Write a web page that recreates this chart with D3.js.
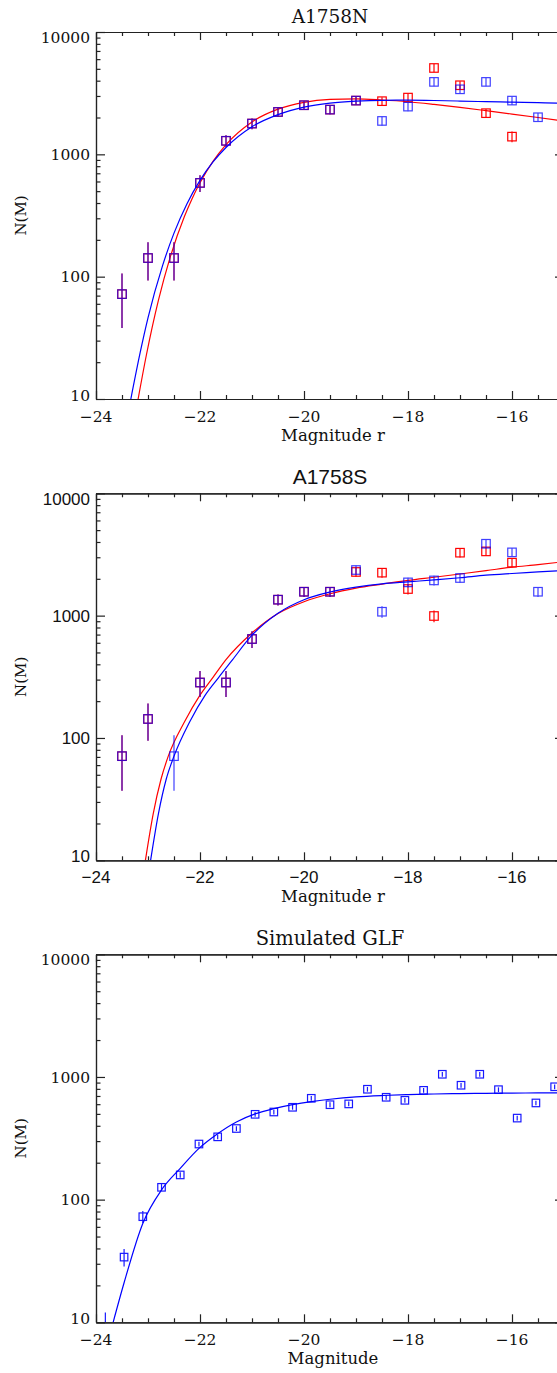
<!DOCTYPE html>
<html>
<head>
<meta charset="UTF-8">
<script src="https://d3js.org/d3.v7.min.js"></script>
<style>
	body{ margin:0; background:#fff; overflow:hidden; }
	svg{ display:block; }
</style>
</head>
<body>
<div id="chart"></div>
<script>
// magnitude bins used by both A1758 panels
var magBins = [-23.5,-23,-22.5,-22,-21.5,-21,-20.5,-20,-19.5,-19,-18.5,-18,-17.5,-17,-16.5,-16,-15.5];

// A1758N counts (red and blue samples) with error half-widths
var nRed     = [72,142,142,584,1290,1785,2220,2520,2320,2750,2720,2910,5080,3670,2170,1395,null];
var nRedErr  = [34,49,49,92,140,180,190,200,190,210,210,230,400,290,180,140,null];
var nBlue    = [72,142,142,584,1290,1785,2220,2520,2320,2750,1875,2455,3910,3400,3910,2750,2010];
var nBlueErr = [34,49,49,92,140,180,190,200,190,210,160,200,310,270,310,220,170];

// A1758S counts
var sRed     = [71,143,null,284,284,644,1350,1568,1568,2275,2245,1650,993,3270,3350,2710,null];
var sRedErr  = [34,48,null,68,68,100,140,150,150,200,200,160,110,280,280,230,null];
var sBlue    = [71,143,71,284,284,644,1350,1568,1568,2360,1076,1870,1940,2030,3870,3290,1568];
var sBlueErr = [34,48,34,68,68,100,140,150,150,210,115,170,175,180,320,280,150];

// simulated GLF
var simMag = [-23.82,-23.46,-23.10,-22.74,-22.38,-22.02,-21.66,-21.30,-20.94,-20.58,-20.22,-19.86,-19.50,-19.14,-18.78,-18.42,-18.06,-17.70,-17.34,-16.98,-16.62,-16.26,-15.90,-15.54,-15.18];
var simN   = [5,34,72.6,126,159,284,325,380,496,518,566,670,594,603,794,683,645,778,1052,856,1052,788,462,614,832];
var simErr = [7,5.5,8,8,8,13,15,17,22,23,25,30,27,27,35,30,29,35,47,38,47,35,21,27,37];

// fitted curves
var fitNRedM  = [-23.19,-23.03,-22.8,-22.58,-22.3,-22.15,-22,-21.75,-21.5,-21,-20.5,-20,-19.5,-19,-18.5,-18,-17.5,-17,-16.5,-16,-15.5,-15];
var fitNRedV  = [10,23,64,141,310,436,585,875,1200,1840,2340,2660,2810,2840,2780,2690,2560,2420,2275,2135,2000,1870];
var fitNBlueM = [-23.33,-23.15,-23,-22.72,-22.5,-22.25,-22,-21.75,-21.5,-21,-20.5,-20,-19.5,-19,-18.5,-18,-17.5,-17,-16.5,-16,-15.5,-15];
var fitNBlueV = [10,24,46,123,227,395,612,866,1137,1680,2110,2430,2620,2720,2765,2770,2755,2725,2695,2670,2645,2615];

var fitSRedM  = [-23.05,-22.9,-22.75,-22.61,-22.3,-22,-21.75,-21.5,-21,-20.5,-20,-19.5,-19,-18.5,-18,-17.5,-17,-16.5,-16,-15.5,-15];
var fitSRedV  = [10,24,46,71,135,224,313,437,721,1040,1300,1510,1680,1810,1940,2060,2190,2330,2490,2610,2760];
var fitSBlueM = [-22.95,-22.8,-22.65,-22.5,-22.2,-21.9,-21.65,-21.4,-21,-20.5,-20,-19.5,-19,-18.5,-18,-17.5,-17,-16.5,-16,-15.5,-15];
var fitSBlueV = [10,24,46,71,135,224,309,422,692,1047,1350,1560,1710,1820,1890,1960,2040,2140,2210,2275,2345];

var fitSimM = [-23.67,-23.46,-23.1,-22.74,-22.38,-22.02,-21.66,-21.3,-20.94,-20.58,-20.22,-19.86,-19.5,-19,-18.5,-18,-17.5,-17,-16.5,-16,-15.5,-15];
var fitSimV = [10,21,64,120,180,262,345,430,500,552,595,630,658,688,706,718,726,732,736,739,741,743];

// axis ticks
var xMajor = [-24,-22,-20,-18,-16];
var xMinor = [-23.5,-23,-22.5,-21.5,-21,-20.5,-19.5,-19,-18.5,-17.5,-17,-16.5,-15.5];
var yMajor = [10,100,1000,10000];
var yMinor = [20,30,40,50,60,70,80,90,200,300,400,500,600,700,800,900,2000,3000,4000,5000,6000,7000,8000,9000];
var yLabels = ["10","100","1000","10000"];
var xLabels = ["\u221224","\u221222","\u221220","\u221218","\u221216"];

var W = 557, H = 1373;
var left = 96, right = 564;
var serif = "'DejaVu Serif', serif";
var sans = "'Liberation Sans', Arial, sans-serif";

var svg = d3.select("#chart").append("svg")
	.attr("width", W).attr("height", H);

var x = d3.scaleLinear().domain([-24, -15]).range([left, right]);

var panels = [
	{id:"p1", top:32, bottom:399, title:"A1758N", titleFont:serif, titleSize:18.5, tickFont:serif, tickSize:15.5, xlabel:"Magnitude r",
	 sets:[
		{mag:magBins, val:nRed, err:nRedErr, color:"#ff0000", op:1, box:8.5},
		{mag:magBins, val:nBlue, err:nBlueErr, color:"#0000ff", op:0.75, box:8.5}],
	 fits:[{m:fitNRedM, v:fitNRedV, color:"#ff0000"}, {m:fitNBlueM, v:fitNBlueV, color:"#0000ff"}]},
	{id:"p2", top:493.3, bottom:860.3, title:"A1758S", titleFont:sans, titleSize:21, tickFont:sans, tickSize:17, xlabel:"Magnitude r",
	 sets:[
		{mag:magBins, val:sRed, err:sRedErr, color:"#ff0000", op:1, box:8.5},
		{mag:magBins, val:sBlue, err:sBlueErr, color:"#0000ff", op:0.75, box:8.5}],
	 fits:[{m:fitSRedM, v:fitSRedV, color:"#ff0000"}, {m:fitSBlueM, v:fitSBlueV, color:"#0000ff"}]},
	{id:"p3", top:954.3, bottom:1322.3, title:"Simulated GLF", titleFont:serif, titleSize:19.5, tickFont:serif, tickSize:15.5, xlabel:"Magnitude",
	 sets:[
		{mag:simMag, val:simN, err:simErr, color:"#0000ff", op:0.9, box:7.5}],
	 fits:[{m:fitSimM, v:fitSimV, color:"#0000ff"}]}
];

panels.forEach(function(p){
	var y = d3.scaleLog().domain([10, 10000]).range([p.bottom, p.top]);
	var g = svg.append("g");

	g.append("clipPath").attr("id", "clip-" + p.id)
		.append("rect").attr("x", left).attr("y", p.top)
		.attr("width", right - left).attr("height", p.bottom - p.top);

	var plot = g.append("g").attr("clip-path", "url(#clip-" + p.id + ")");

	var line = d3.line()
		.x(function(d){ return x(d[0]); })
		.y(function(d){ return y(d[1]); })
		.curve(d3.curveMonotoneX);

	// data then fit, red first so blue sits on top
	p.sets.forEach(function(s, k){
		var pts = s.mag.map(function(m, i){ return {m:m, v:s.val[i], e:s.err[i]}; })
			.filter(function(d){ return d.v != null; });

		var fit = p.fits[k];
		plot.append("path")
			.datum(fit.m.map(function(m, i){ return [m, fit.v[i]]; }))
			.attr("d", line)
			.attr("fill", "none")
			.attr("stroke", fit.color)
			.attr("stroke-width", 1.2);

		var mk = plot.append("g").attr("opacity", s.op);
		mk.selectAll("line").data(pts).enter().append("line")
			.attr("x1", function(d){ return x(d.m); })
			.attr("x2", function(d){ return x(d.m); })
			.attr("y1", function(d){ return y(Math.max(d.v - d.e, 3)); })
			.attr("y2", function(d){ return y(d.v + d.e); })
			.attr("stroke", s.color).attr("stroke-width", 1.2);
		mk.selectAll("rect").data(pts).enter().append("rect")
			.attr("x", function(d){ return x(d.m) - s.box / 2; })
			.attr("y", function(d){ return y(d.v) - s.box / 2; })
			.attr("width", s.box).attr("height", s.box)
			.attr("fill", "none")
			.attr("stroke", s.color).attr("stroke-width", 1.2);
	});

	// IDL style box axes with inward ticks
	function axis(a, tr, vals, len){
		var ax = g.append("g").attr("transform", tr)
			.call(a.tickValues(vals).tickSize(-len).tickSizeOuter(0).tickFormat(""));
		ax.selectAll("path,line").attr("stroke", "#222").attr("stroke-width", 1.2);
	}
	axis(d3.axisBottom(x), "translate(0," + p.bottom + ")", xMajor, 8);
	axis(d3.axisBottom(x), "translate(0," + p.bottom + ")", xMinor, 4);
	axis(d3.axisTop(x), "translate(0," + p.top + ")", xMajor, 8);
	axis(d3.axisTop(x), "translate(0," + p.top + ")", xMinor, 4);
	axis(d3.axisLeft(y), "translate(" + left + ",0)", yMajor, 9);
	axis(d3.axisLeft(y), "translate(" + left + ",0)", yMinor, 4.5);
	axis(d3.axisRight(y), "translate(" + right + ",0)", yMajor, 9);
	axis(d3.axisRight(y), "translate(" + right + ",0)", yMinor, 4.5);

	// tick labels
	g.selectAll("text.yl").data(yMajor).enter().append("text")
		.attr("class", "yl")
		.attr("x", left - 6)
		.attr("y", function(d){ return Math.min(Math.max(y(d), p.top + 5.5), p.bottom - 4); })
		.attr("dy", "0.36em")
		.attr("text-anchor", "end")
		.style("font-family", p.tickFont).style("font-size", p.tickSize + "px")
		.attr("fill", "#111")
		.text(function(d, i){ return yLabels[i]; });

	g.selectAll("text.xl").data(xMajor).enter().append("text")
		.attr("class", "xl")
		.attr("x", function(d){ return x(d); })
		.attr("y", p.bottom + 23)
		.attr("text-anchor", "middle")
		.style("font-family", p.tickFont).style("font-size", p.tickSize + "px")
		.attr("fill", "#111")
		.text(function(d, i){ return xLabels[i]; });

	// titles
	g.append("text").attr("x", (left + right) / 2).attr("y", p.top - 9)
		.attr("text-anchor", "middle")
		.style("font-family", p.titleFont).style("font-size", p.titleSize + "px")
		.attr("fill", "#111").text(p.title);

	g.append("text").attr("x", (left + right) / 2 + 3).attr("y", p.bottom + 42)
		.attr("text-anchor", "middle")
		.style("font-family", serif).style("font-size", "16.5px")
		.attr("fill", "#111").text(p.xlabel);

	g.append("text")
		.attr("transform", "translate(21," + ((p.top + p.bottom) / 2) + ") rotate(-90)")
		.attr("text-anchor", "middle").attr("dy", "0.35em")
		.style("font-family", serif).style("font-size", "15px")
		.attr("fill", "#111").text("N(M)");
});
</script>
</body>
</html>
